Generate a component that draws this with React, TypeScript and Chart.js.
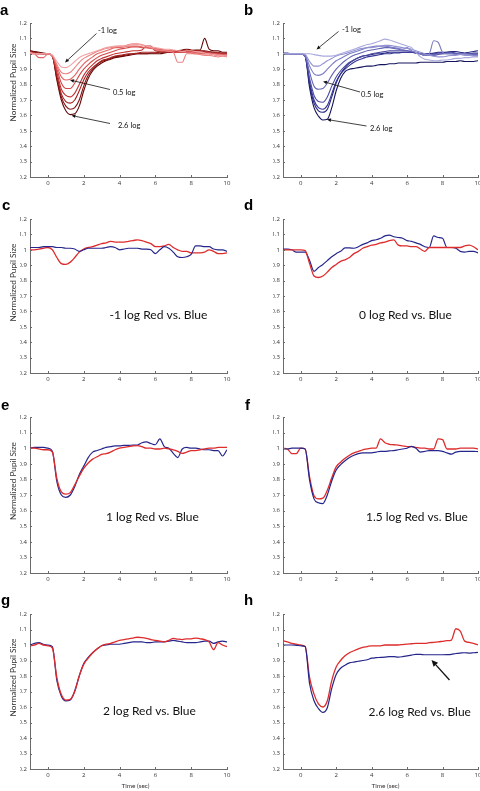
import React, { useEffect, useRef } from "react";
import { Chart, registerables } from "chart.js";

Chart.register(...registerables);

// ---------- data ----------
const TIME = [
  -1, -0.75, -0.5, -0.25, 0, 0.25, 0.5, 0.75, 1, 1.25, 1.5, 1.75, 2, 2.25, 2.5,
  2.75, 3, 3.25, 3.5, 3.75, 4, 4.25, 4.5, 4.75, 5, 5.25, 5.5, 5.75, 6, 6.25,
  6.5, 6.75, 7, 7.25, 7.5, 7.75, 8, 8.25, 8.5, 8.75, 9, 9.25, 9.5, 9.75, 10,
];
const X_TICKS = [0, 2, 4, 6, 8, 10];
const Y_TICKS = [0.2, 0.3, 0.4, 0.5, 0.6, 0.7, 0.8, 0.9, 1, 1.1, 1.2];
const Y_TICK_LABELS = ["0.2", "0.3", "0.4", "0.5", "0.6", "0.7", "0.8", "0.9", "1", "1.1", "1.2"];

// panel a: red, -1 log (light) ... 2.6 log (dark)
const A1 = [1.01, 1.0, 1.0, 1.0, 1.0, 0.99, 0.95, 0.915, 0.91, 0.925, 0.95, 0.975, 0.99, 1.0, 1.01, 1.02, 1.03, 1.04, 1.045, 1.05, 1.05, 1.05, 1.055, 1.06, 1.06, 1.055, 1.05, 1.045, 1.04, 1.035, 1.03, 1.03, 1.025, 1.02, 1.015, 1.02, 1.02, 1.015, 1.01, 1.005, 1.0, 0.995, 0.99, 0.99, 0.985];
const A2 = [1.0, 1.0, 1.0, 1.0, 1.0, 0.99, 0.93, 0.88, 0.87, 0.88, 0.91, 0.945, 0.97, 0.985, 1.0, 1.015, 1.025, 1.035, 1.04, 1.045, 1.05, 1.05, 1.06, 1.065, 1.065, 1.06, 1.05, 1.04, 1.03, 1.02, 1.02, 1.015, 1.01, 0.945, 0.945, 1.0, 1.0, 1.0, 0.995, 0.99, 0.99, 0.985, 0.98, 0.985, 0.98];
const A3 = [1.005, 1.0, 0.975, 0.975, 1.0, 0.99, 0.92, 0.85, 0.83, 0.835, 0.86, 0.9, 0.935, 0.96, 0.98, 1.0, 1.01, 1.02, 1.03, 1.04, 1.04, 1.045, 1.05, 1.05, 1.05, 1.045, 1.04, 1.04, 1.035, 1.03, 1.025, 1.02, 1.02, 1.02, 1.015, 1.01, 1.01, 1.01, 1.005, 1.0, 1.0, 1.0, 0.995, 0.99, 0.99];
const A4 = [1.0, 1.0, 1.0, 1.0, 1.0, 0.985, 0.9, 0.81, 0.775, 0.775, 0.81, 0.86, 0.9, 0.93, 0.955, 0.975, 0.99, 1.0, 1.01, 1.02, 1.03, 1.035, 1.04, 1.045, 1.045, 1.04, 1.04, 1.035, 1.03, 1.03, 1.025, 1.02, 1.015, 1.01, 1.01, 1.01, 1.005, 1.0, 1.0, 1.0, 1.0, 0.995, 0.99, 0.995, 0.99];
const A5 = [1.01, 1.005, 1.0, 1.0, 1.0, 0.985, 0.88, 0.77, 0.73, 0.72, 0.745, 0.8, 0.86, 0.9, 0.93, 0.955, 0.97, 0.98, 0.99, 1.0, 1.005, 1.01, 1.015, 1.02, 1.02, 1.025, 1.05, 1.05, 1.02, 1.02, 1.015, 1.015, 1.01, 1.01, 1.01, 1.015, 1.015, 1.01, 1.01, 1.01, 1.005, 1.0, 1.0, 1.0, 1.0];
const A6 = [1.01, 1.005, 1.0, 1.0, 1.0, 0.985, 0.86, 0.74, 0.69, 0.68, 0.7, 0.76, 0.83, 0.88, 0.91, 0.935, 0.955, 0.965, 0.975, 0.985, 0.99, 0.995, 1.0, 1.0, 1.005, 1.01, 1.01, 1.01, 1.01, 1.015, 1.01, 1.01, 1.01, 1.015, 1.02, 1.02, 1.02, 1.02, 1.02, 1.015, 1.01, 1.01, 1.005, 1.005, 1.0];
const A7 = [1.02, 1.01, 1.005, 1.0, 1.0, 0.985, 0.84, 0.72, 0.66, 0.64, 0.65, 0.7, 0.79, 0.86, 0.9, 0.93, 0.95, 0.96, 0.97, 0.98, 0.985, 0.99, 0.995, 1.0, 1.0, 1.0, 1.0, 1.005, 1.005, 1.01, 1.01, 1.01, 1.02, 1.02, 1.025, 1.03, 1.025, 1.02, 1.02, 1.02, 1.015, 1.01, 1.01, 1.0, 1.0];
const A8 = [1.02, 1.015, 1.01, 1.005, 1.0, 0.985, 0.83, 0.7, 0.63, 0.605, 0.61, 0.66, 0.76, 0.84, 0.89, 0.92, 0.94, 0.955, 0.965, 0.975, 0.98, 0.985, 0.99, 0.995, 1.0, 1.0, 1.0, 1.0, 1.0, 1.0, 1.005, 1.01, 1.01, 1.015, 1.02, 1.02, 1.02, 1.025, 1.025, 1.1, 1.03, 1.02, 1.02, 1.01, 1.01];

// panel b: blue, -1 log (light) ... 2.6 log (dark)
const B1 = [1.0, 1.0, 1.0, 1.0, 1.0, 1.0, 1.0, 0.995, 0.99, 0.985, 0.985, 0.985, 0.99, 1.0, 1.01, 1.02, 1.03, 1.04, 1.05, 1.06, 1.065, 1.075, 1.085, 1.095, 1.09, 1.08, 1.07, 1.06, 1.05, 1.04, 1.01, 0.98, 0.965, 0.96, 0.955, 0.955, 0.96, 0.96, 0.965, 0.97, 0.97, 0.975, 0.975, 0.98, 0.98];
const B2 = [1.0, 1.0, 1.0, 1.0, 1.0, 0.995, 0.95, 0.92, 0.92, 0.935, 0.955, 0.97, 0.985, 0.995, 1.0, 1.01, 1.02, 1.03, 1.035, 1.04, 1.04, 1.045, 1.05, 1.055, 1.055, 1.05, 1.045, 1.04, 1.035, 1.03, 1.02, 1.01, 1.0, 0.99, 0.985, 0.98, 0.98, 0.985, 0.99, 0.99, 0.995, 0.99, 0.99, 0.985, 0.985];
const B3 = [1.0, 1.0, 1.0, 1.0, 1.0, 0.99, 0.92, 0.87, 0.86, 0.87, 0.9, 0.93, 0.955, 0.97, 0.985, 1.0, 1.01, 1.02, 1.03, 1.04, 1.045, 1.05, 1.05, 1.05, 1.045, 1.04, 1.035, 1.03, 1.04, 1.02, 1.01, 1.0, 0.99, 1.0, 1.085, 1.075, 1.01, 1.0, 1.0, 0.995, 1.0, 1.0, 0.995, 0.99, 0.99];
const B4 = [1.0, 1.0, 1.0, 1.0, 1.0, 0.985, 0.88, 0.79, 0.77, 0.775, 0.81, 0.86, 0.9, 0.93, 0.955, 0.975, 0.99, 1.0, 1.01, 1.02, 1.025, 1.03, 1.035, 1.04, 1.04, 1.035, 1.03, 1.025, 1.02, 1.015, 1.01, 1.0, 0.99, 0.99, 0.995, 1.0, 1.0, 1.005, 1.005, 1.0, 1.0, 1.0, 1.0, 0.995, 0.995];
const B5 = [1.0, 1.0, 1.0, 1.0, 1.0, 0.985, 0.84, 0.73, 0.69, 0.685, 0.72, 0.79, 0.85, 0.89, 0.92, 0.945, 0.96, 0.975, 0.985, 0.99, 1.0, 1.005, 1.01, 1.015, 1.02, 1.02, 1.02, 1.02, 1.02, 1.015, 1.01, 1.0, 0.99, 0.99, 0.99, 0.995, 1.0, 1.0, 1.0, 1.0, 1.005, 1.0, 1.0, 1.0, 1.0];
const B6 = [1.005, 1.005, 1.0, 1.0, 1.0, 0.985, 0.82, 0.7, 0.65, 0.64, 0.665, 0.74, 0.82, 0.87, 0.9, 0.925, 0.945, 0.96, 0.97, 0.98, 0.985, 0.99, 0.995, 1.0, 1.0, 1.005, 1.005, 1.01, 1.01, 1.01, 1.005, 1.0, 1.0, 1.0, 1.0, 1.005, 1.005, 1.01, 1.01, 1.005, 1.0, 1.0, 1.0, 1.005, 1.005];
const B7 = [1.0, 1.0, 1.0, 1.0, 1.0, 0.985, 0.8, 0.68, 0.63, 0.62, 0.64, 0.72, 0.81, 0.87, 0.91, 0.94, 0.96, 0.975, 0.985, 0.99, 0.995, 1.0, 1.0, 1.005, 1.01, 1.01, 1.01, 1.01, 1.01, 1.01, 1.005, 1.0, 1.0, 1.0, 1.005, 1.01, 1.01, 1.01, 1.015, 1.015, 1.01, 1.005, 1.01, 1.015, 1.02];
const B8 = [1.0, 1.0, 1.0, 1.0, 1.0, 0.985, 0.78, 0.65, 0.595, 0.57, 0.575, 0.65, 0.76, 0.84, 0.885, 0.9, 0.905, 0.91, 0.915, 0.92, 0.92, 0.925, 0.93, 0.93, 0.935, 0.935, 0.94, 0.94, 0.94, 0.94, 0.94, 0.945, 0.945, 0.945, 0.945, 0.945, 0.945, 0.95, 0.95, 0.95, 0.955, 0.95, 0.95, 0.95, 0.955];

// panels c-h: red vs blue at one intensity
const C_RED = [1.0, 1.0, 1.005, 1.01, 1.015, 1.0, 0.95, 0.91, 0.905, 0.92, 0.95, 0.985, 1.005, 1.015, 1.02, 1.03, 1.04, 1.045, 1.055, 1.05, 1.05, 1.05, 1.055, 1.06, 1.065, 1.06, 1.05, 1.04, 1.02, 1.02, 1.025, 1.035, 1.015, 1.0, 0.99, 0.99, 0.98, 0.98, 0.98, 0.985, 1.0, 0.99, 0.975, 0.975, 0.98];
const C_BLUE = [1.015, 1.015, 1.015, 1.02, 1.02, 1.02, 1.015, 1.015, 1.01, 1.01, 1.005, 0.99, 1.0, 1.01, 1.01, 1.01, 1.01, 1.015, 1.02, 1.015, 1.0, 1.005, 1.01, 1.01, 1.01, 1.005, 1.005, 1.0, 0.975, 1.0, 1.02, 1.01, 0.985, 0.955, 0.95, 0.955, 0.97, 1.025, 1.025, 1.02, 1.02, 1.005, 1.0, 1.0, 0.99];
const D_RED = [1.0, 1.0, 1.0, 1.0, 1.0, 0.995, 0.91, 0.83, 0.82, 0.83, 0.855, 0.885, 0.905, 0.925, 0.935, 0.95, 0.975, 0.99, 1.01, 1.02, 1.03, 1.035, 1.045, 1.05, 1.06, 1.065, 1.03, 1.025, 1.025, 1.02, 1.02, 1.005, 0.99, 1.015, 1.015, 1.015, 1.015, 1.015, 1.015, 1.015, 1.015, 1.025, 1.03, 1.02, 1.0];
const D_BLUE = [1.005, 1.005, 1.0, 0.985, 0.985, 0.985, 0.93, 0.86, 0.885, 0.905, 0.93, 0.955, 0.975, 0.99, 1.012, 1.012, 1.01, 1.02, 1.035, 1.045, 1.06, 1.065, 1.075, 1.09, 1.095, 1.085, 1.08, 1.075, 1.06, 1.055, 1.045, 1.035, 1.02, 1.015, 1.09, 1.08, 1.075, 1.015, 1.015, 1.01, 0.99, 0.985, 0.99, 0.99, 0.98];
const E_RED = [1.0, 1.0, 0.995, 0.99, 0.99, 0.975, 0.805, 0.72, 0.705, 0.715, 0.765, 0.82, 0.87, 0.905, 0.93, 0.945, 0.96, 0.965, 0.975, 0.99, 1.0, 1.005, 1.01, 1.015, 1.017, 1.01, 1.0, 1.0, 0.995, 0.995, 1.0, 0.995, 0.99, 0.98, 0.967, 0.975, 0.985, 0.985, 0.99, 0.995, 1.0, 1.0, 1.005, 1.005, 1.005];
const E_BLUE = [1.0, 1.005, 1.005, 1.005, 1.0, 0.98, 0.785, 0.7, 0.685, 0.7, 0.755, 0.83, 0.885, 0.94, 0.975, 0.985, 0.995, 1.005, 1.01, 1.015, 1.015, 1.018, 1.018, 1.02, 1.02, 1.035, 1.04, 1.03, 1.022, 1.06, 1.01, 1.0, 0.967, 0.94, 0.995, 1.005, 1.0, 1.0, 0.995, 0.99, 0.99, 0.985, 0.985, 0.95, 0.99];
const F_RED = [1.0, 0.995, 0.965, 0.965, 1.0, 0.995, 0.815, 0.695, 0.675, 0.68, 0.73, 0.81, 0.88, 0.91, 0.935, 0.955, 0.97, 0.98, 0.99, 0.995, 1.0, 1.0, 1.06, 1.035, 1.025, 1.022, 1.02, 1.015, 1.01, 1.01, 1.005, 1.0, 1.0, 0.995, 0.995, 1.06, 1.055, 0.995, 0.995, 0.995, 1.0, 1.0, 1.0, 1.0, 0.995];
const F_BLUE = [0.995, 0.995, 1.0, 1.0, 1.0, 0.995, 0.795, 0.675, 0.65, 0.645, 0.7, 0.79, 0.86, 0.895, 0.92, 0.94, 0.955, 0.965, 0.97, 0.97, 0.97, 0.975, 0.98, 0.98, 0.983, 0.985, 0.99, 0.995, 1.0, 1.012, 1.0, 0.975, 0.98, 0.985, 0.985, 0.985, 0.98, 0.97, 0.962, 0.975, 0.98, 0.98, 0.98, 0.98, 0.978];
const G_RED = [0.995, 1.0, 1.01, 1.0, 0.995, 0.98, 0.79, 0.68, 0.645, 0.65, 0.7, 0.8, 0.875, 0.915, 0.95, 0.975, 0.995, 1.005, 1.01, 1.02, 1.03, 1.035, 1.04, 1.045, 1.05, 1.048, 1.043, 1.035, 1.03, 1.025, 1.02, 1.03, 1.043, 1.038, 1.035, 1.04, 1.04, 1.045, 1.04, 1.035, 1.02, 0.97, 1.015, 1.0, 0.99];
const G_BLUE = [1.0, 1.01, 1.015, 1.005, 1.0, 0.99, 0.77, 0.67, 0.64, 0.645, 0.705, 0.8, 0.88, 0.92, 0.95, 0.975, 0.995, 1.0, 1.005, 1.005, 1.005, 1.01, 1.015, 1.02, 1.02, 1.02, 1.015, 1.015, 1.02, 1.02, 1.02, 1.025, 1.03, 1.025, 1.02, 1.015, 1.015, 1.015, 1.02, 1.025, 1.025, 1.01, 1.02, 1.025, 1.02];
const H_RED = [1.028, 1.02, 1.01, 1.005, 1.0, 0.99, 0.79, 0.683, 0.62, 0.6, 0.64, 0.77, 0.858, 0.9, 0.93, 0.95, 0.963, 0.975, 0.985, 0.99, 0.995, 0.995, 0.995, 1.0, 1.0, 1.0, 1.0, 1.003, 1.006, 1.008, 1.01, 1.01, 1.01, 1.015, 1.017, 1.02, 1.024, 1.028, 1.032, 1.105, 1.09, 1.025, 1.017, 1.01, 1.0];
const H_BLUE = [1.0, 1.0, 1.0, 0.998, 0.995, 0.99, 0.75, 0.64, 0.59, 0.565, 0.595, 0.72, 0.81, 0.85, 0.87, 0.885, 0.89, 0.895, 0.9, 0.905, 0.915, 0.918, 0.92, 0.922, 0.925, 0.925, 0.922, 0.925, 0.93, 0.935, 0.94, 0.94, 0.937, 0.937, 0.937, 0.937, 0.937, 0.938, 0.94, 0.945, 0.948, 0.95, 0.948, 0.95, 0.952];

// ---------- styles ----------
const RED_SHADES = ["#f2a0a0", "#ec8282", "#e26464", "#d64848", "#c23232", "#a52020", "#851010", "#600606"];
const BLUE_SHADES = ["#a9a9dd", "#9292d2", "#7b7bc4", "#6464b5", "#4b4ba5", "#363694", "#262680", "#14145e"];
const RED = "#de2b2b";
const BLUE = "#25258c";
const AXIS = "#6a6a6a";
const TEXT = "#333";
const FONT = "Lato, 'Open Sans', sans-serif";
const TICK_FONT = "'Open Sans', 'DejaVu Sans', sans-serif";

type Series = { data: number[]; color: string; width?: number };
type Txt = { text: string; x: number; y: number; w?: number; size?: number };
type Arr = { x1: number; y1: number; x2: number; y2: number; lw: number; hl: number; hw: number };
type PanelCfg = {
  letter: string; lx: number; ly: number;
  left: number; right: number; top: number; bottom: number;
  series: Series[];
  yTitleY?: number; xTitleX?: number; xTitleY?: number;
  texts: Txt[]; arrows: Arr[];
};

const COL_L = { left: 30, right: 227 };
const COL_R = { left: 283, right: 478 };
const ROWS = [
  { top: 23, bottom: 177 },
  { top: 219, bottom: 373 },
  { top: 417, bottom: 573 },
  { top: 614, bottom: 769 },
];

const pair = (red: number[], blue: number[], blueOnTop: boolean): Series[] =>
  blueOnTop
    ? [{ data: red, color: RED, width: 1.3 }, { data: blue, color: BLUE, width: 1.2 }]
    : [{ data: blue, color: BLUE, width: 1.2 }, { data: red, color: RED, width: 1.3 }];

const smallArrow = (x1: number, y1: number, x2: number, y2: number): Arr => ({ x1, y1, x2, y2, lw: 0.8, hl: 4, hw: 1.8 });

const PANELS: PanelCfg[] = [
  {
    letter: "a", lx: 0, ly: 15, ...COL_L, ...ROWS[0],
    series: [A1, A2, A3, A4, A5, A6, A7, A8].map((d, i) => ({ data: d, color: RED_SHADES[i], width: 1.1 })),
    yTitleY: 82.5,
    texts: [
      { text: "-1 log", x: 98, y: 31, size: 7.5 },
      { text: "0.5 log", x: 113, y: 92.5, size: 7.5 },
      { text: "2.6 log", x: 118, y: 126, size: 7.5 },
    ],
    arrows: [smallArrow(96.5, 33.5, 65, 62.5), smallArrow(110, 89.5, 70, 80), smallArrow(110, 123.5, 71.5, 115.5)],
  },
  {
    letter: "b", lx: 244, ly: 15, ...COL_R, ...ROWS[0],
    series: [B1, B2, B3, B4, B5, B6, B7, B8].map((d, i) => ({ data: d, color: BLUE_SHADES[i], width: 1.1 })),
    texts: [
      { text: "-1 log", x: 342, y: 30, size: 7.5 },
      { text: "0.5 log", x: 361, y: 95, size: 7.5 },
      { text: "2.6 log", x: 370, y: 128.5, size: 7.5 },
    ],
    arrows: [smallArrow(338.5, 31.5, 316.5, 49.5), smallArrow(360, 92, 323, 81.5), smallArrow(366.5, 126, 327, 119.5)],
  },
  {
    letter: "c", lx: 2, ly: 209.5, ...COL_L, ...ROWS[1],
    series: pair(C_RED, C_BLUE, false), yTitleY: 282.5,
    texts: [{ text: "-1 log Red vs. Blue", x: 109.5, y: 315, w: 98 }], arrows: [],
  },
  {
    letter: "d", lx: 244, ly: 210, ...COL_R, ...ROWS[1],
    series: pair(D_RED, D_BLUE, true),
    texts: [{ text: "0 log Red vs. Blue", x: 359, y: 315.5, w: 93 }], arrows: [],
  },
  {
    letter: "e", lx: 1, ly: 410, ...COL_L, ...ROWS[2],
    series: pair(E_RED, E_BLUE, true), yTitleY: 481,
    texts: [{ text: "1 log Red vs. Blue", x: 106, y: 517.5, w: 93 }], arrows: [],
  },
  {
    letter: "f", lx: 245, ly: 410, ...COL_R, ...ROWS[2],
    series: pair(F_RED, F_BLUE, false),
    texts: [{ text: "1.5 log Red vs. Blue", x: 366, y: 517.5, w: 102 }], arrows: [],
  },
  {
    letter: "g", lx: 1, ly: 605, ...COL_L, ...ROWS[3],
    series: pair(G_RED, G_BLUE, true), yTitleY: 677.5, xTitleX: 135.5, xTitleY: 786,
    texts: [{ text: "2 log Red vs. Blue", x: 103, y: 711.5, w: 93 }], arrows: [],
  },
  {
    letter: "h", lx: 244, ly: 605, ...COL_R, ...ROWS[3],
    series: pair(H_RED, H_BLUE, false), xTitleX: 385.5, xTitleY: 785.5,
    texts: [{ text: "2.6 log Red vs. Blue", x: 368.5, y: 712, w: 102.5 }],
    arrows: [{ x1: 449.5, y1: 680, x2: 431.5, y2: 660, lw: 1.3, hl: 6.5, hw: 3 }],
  },
];

const W = 480;
const H = 791;
const YW = 10;
const XH = 12;

function fitFont(ctx: CanvasRenderingContext2D, text: string, target: number, weight = "normal") {
  ctx.font = `${weight} 20px ${FONT}`;
  const w = ctx.measureText(text).width || 1;
  const size = (20 * target) / w;
  ctx.font = `${weight} ${size}px ${FONT}`;
}

function drawArrow(ctx: CanvasRenderingContext2D, a: Arr) {
  const ang = Math.atan2(a.y2 - a.y1, a.x2 - a.x1);
  const bx = a.x2 - a.hl * Math.cos(ang);
  const by = a.y2 - a.hl * Math.sin(ang);
  ctx.strokeStyle = "#111";
  ctx.fillStyle = "#111";
  ctx.lineWidth = a.lw;
  ctx.beginPath();
  ctx.moveTo(a.x1, a.y1);
  ctx.lineTo(bx, by);
  ctx.stroke();
  ctx.beginPath();
  ctx.moveTo(a.x2, a.y2);
  ctx.lineTo(bx + a.hw * Math.sin(ang), by - a.hw * Math.cos(ang));
  ctx.lineTo(bx - a.hw * Math.sin(ang), by + a.hw * Math.cos(ang));
  ctx.closePath();
  ctx.fill();
}

function overlay(p: PanelCfg) {
  return {
    id: "overlay_" + p.letter,
    afterDraw(chart: any) {
      const ctx: CanvasRenderingContext2D = chart.ctx;
      const { left, bottom } = chart.chartArea;
      const xs = chart.scales.x;
      const ys = chart.scales.y;
      ctx.save();
      // inward tick marks
      ctx.strokeStyle = AXIS;
      ctx.lineWidth = 1;
      ctx.beginPath();
      X_TICKS.forEach((v) => {
        const px = Math.round(xs.getPixelForValue(v)) + 0.5;
        ctx.moveTo(px, bottom);
        ctx.lineTo(px, bottom - 2);
      });
      Y_TICKS.forEach((v) => {
        const py = Math.round(ys.getPixelForValue(v)) + 0.5;
        ctx.moveTo(left, py);
        ctx.lineTo(left + 2, py);
      });
      ctx.stroke();

      // panel letter
      ctx.fillStyle = "#000";
      ctx.textBaseline = "alphabetic";
      ctx.textAlign = "left";
      ctx.font = `bold 15px 'Liberation Sans', Arial, sans-serif`;
      ctx.fillText(p.letter, p.lx, p.ly);

      // axis titles
      ctx.fillStyle = TEXT;
      ctx.textBaseline = "middle";
      if (p.yTitleY !== undefined) {
        ctx.save();
        ctx.translate(13.5, p.yTitleY);
        ctx.rotate(-Math.PI / 2);
        ctx.textAlign = "center";
        fitFont(ctx, "Normalized Pupil Size", 78);
        ctx.fillText("Normalized Pupil Size", 0, 0);
        ctx.restore();
      }
      if (p.xTitleX !== undefined && p.xTitleY !== undefined) {
        ctx.textAlign = "center";
        fitFont(ctx, "Time (sec)", 28);
        ctx.fillText("Time (sec)", p.xTitleX, p.xTitleY);
      }

      // annotations
      ctx.fillStyle = "#111";
      ctx.textAlign = "left";
      p.texts.forEach((t) => {
        if (t.w) fitFont(ctx, t.text, t.w);
        else ctx.font = `${t.size || 8}px ${FONT}`;
        ctx.fillText(t.text, t.x, t.y);
      });
      p.arrows.forEach((a) => drawArrow(ctx, a));
      ctx.restore();
    },
  };
}

function Panel({ cfg }: { cfg: PanelCfg }) {
  const ref = useRef<HTMLCanvasElement>(null);
  useEffect(() => {
    const canvas = ref.current;
    if (!canvas) return;
    const tickFont = { size: 6, family: TICK_FONT };
    const chart = new Chart(canvas, {
      type: "line",
      data: {
        datasets: cfg.series.map((s) => ({
          data: TIME.map((t, i) => ({ x: t, y: s.data[i] })),
          borderColor: s.color,
          backgroundColor: s.color,
          borderWidth: s.width || 1.1,
          pointRadius: 0,
          fill: false,
          tension: 0.3,
          cubicInterpolationMode: "monotone" as const,
        })),
      },
      options: {
        animation: false,
        responsive: false,
        maintainAspectRatio: false,
        events: [],
        layout: {
          padding: {
            left: cfg.left - YW,
            right: W - cfg.right,
            top: cfg.top,
            bottom: H - cfg.bottom - XH,
          },
        },
        plugins: { legend: { display: false }, tooltip: { enabled: false }, title: { display: false } },
        scales: {
          x: {
            type: "linear",
            min: -1,
            max: 10,
            afterBuildTicks: (s: any) => {
              s.ticks = X_TICKS.map((v) => ({ value: v }));
            },
            afterFit: (s: any) => {
              s.height = XH;
              s.paddingLeft = 0;
              s.paddingRight = 0;
            },
            grid: { display: false, drawTicks: false },
            border: { display: true, color: AXIS, width: 1 },
            ticks: {
              font: tickFont,
              color: TEXT,
              padding: 3,
              maxRotation: 0,
              autoSkip: false,
              callback: (v: any) => String(v),
            },
          },
          y: {
            type: "linear",
            min: 0.2,
            max: 1.2,
            afterBuildTicks: (s: any) => {
              s.ticks = Y_TICKS.map((v) => ({ value: v }));
            },
            afterFit: (s: any) => {
              s.width = YW;
              s.paddingTop = 0;
              s.paddingBottom = 0;
            },
            grid: { display: false, drawTicks: false },
            border: { display: true, color: AXIS, width: 1 },
            ticks: {
              font: tickFont,
              color: TEXT,
              padding: 3,
              autoSkip: false,
              callback: (v: any) => {
                const i = Y_TICKS.findIndex((t) => Math.abs(t - Number(v)) < 1e-6);
                return i >= 0 ? Y_TICK_LABELS[i] : "";
              },
            },
          },
        },
      },
      plugins: [overlay(cfg)],
    } as any);
    return () => chart.destroy();
  }, [cfg]);
  return (
    <canvas
      ref={ref}
      width={W}
      height={H}
      style={{ position: "absolute", left: 0, top: 0, width: W, height: H }}
    />
  );
}

export default function App() {
  return (
    <div style={{ position: "absolute", left: 0, top: 0, width: W, height: H, background: "#fff", overflow: "hidden" }}>
      {PANELS.map((p) => (
        <Panel key={p.letter} cfg={p} />
      ))}
    </div>
  );
}
